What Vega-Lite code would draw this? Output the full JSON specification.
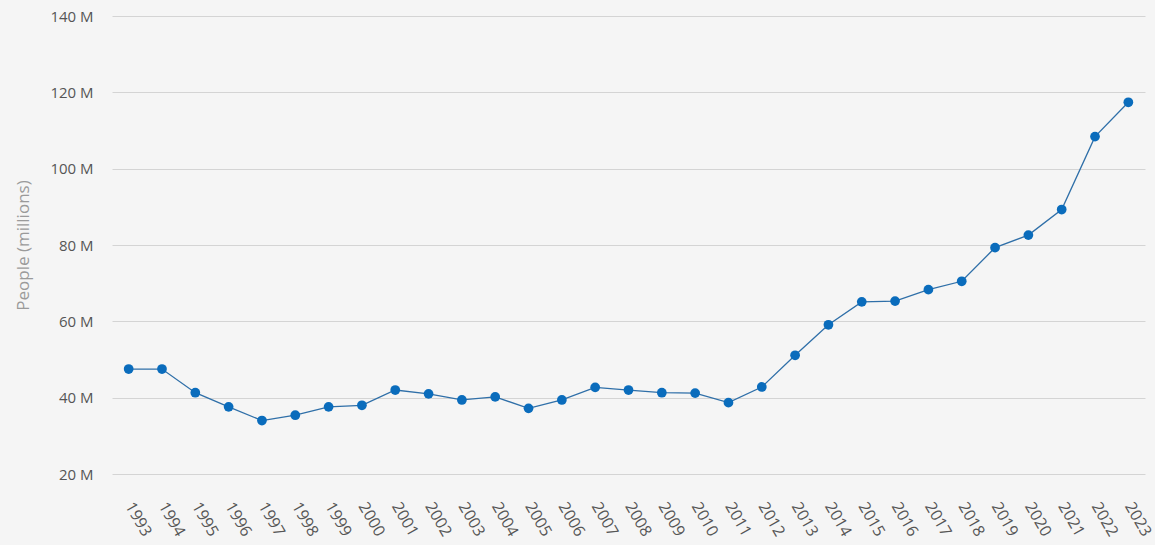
{
  "$schema": "https://vega.github.io/schema/vega-lite/v6.json",
  "width": 1033,
  "height": 458,
  "autosize": {"type": "none"},
  "padding": {"left": 112, "top": 16, "right": 10, "bottom": 71},
  "background": "#f5f5f5",
  "config": {
    "view": {"stroke": null},
    "font": "Open Sans",
    "axis": {"labelFont": "Open Sans", "titleFont": "Open Sans"}
  },
  "data": {
    "values": [
      {"year": "1993", "people": 47.5},
      {"year": "1994", "people": 47.5},
      {"year": "1995", "people": 41.3},
      {"year": "1996", "people": 37.6},
      {"year": "1997", "people": 34.0},
      {"year": "1998", "people": 35.4},
      {"year": "1999", "people": 37.6},
      {"year": "2000", "people": 38.0},
      {"year": "2001", "people": 42.0},
      {"year": "2002", "people": 41.0},
      {"year": "2003", "people": 39.4},
      {"year": "2004", "people": 40.2},
      {"year": "2005", "people": 37.2},
      {"year": "2006", "people": 39.4},
      {"year": "2007", "people": 42.7},
      {"year": "2008", "people": 42.0},
      {"year": "2009", "people": 41.3},
      {"year": "2010", "people": 41.2},
      {"year": "2011", "people": 38.7},
      {"year": "2012", "people": 42.8},
      {"year": "2013", "people": 51.1},
      {"year": "2014", "people": 59.1},
      {"year": "2015", "people": 65.1},
      {"year": "2016", "people": 65.3},
      {"year": "2017", "people": 68.3},
      {"year": "2018", "people": 70.5},
      {"year": "2019", "people": 79.3},
      {"year": "2020", "people": 82.6},
      {"year": "2021", "people": 89.3},
      {"year": "2022", "people": 108.4},
      {"year": "2023", "people": 117.4}
    ]
  },
  "encoding": {
    "x": {
      "field": "year",
      "type": "ordinal",
      "scale": {"type": "point", "padding": 0.5},
      "axis": {
        "title": null,
        "domain": false,
        "ticks": false,
        "grid": false,
        "labelAngle": 60,
        "labelAlign": "left",
        "labelBaseline": "middle",
        "labelPadding": 29,
        "labelFontSize": 16,
        "labelColor": "#555555"
      }
    },
    "y": {
      "field": "people",
      "type": "quantitative",
      "scale": {"domain": [20, 140], "nice": false, "zero": false},
      "axis": {
        "title": "People (millions)",
        "titleColor": "#9a9a9a",
        "titleFontSize": 17,
        "titleFontWeight": "normal",
        "titleX": -80,
        "titleY": 229,
        "values": [20, 40, 60, 80, 100, 120, 140],
        "labelExpr": "datum.value + ' M'",
        "domain": false,
        "ticks": false,
        "labelPadding": 19,
        "labelFontSize": 15,
        "labelColor": "#555555",
        "gridColor": "#d4d4d4",
        "gridWidth": 1
      }
    }
  },
  "layer": [
    {"mark": {"type": "line", "color": "#2f6fa8", "strokeWidth": 1.3}},
    {"mark": {"type": "point", "filled": true, "color": "#0a6cbc", "opacity": 1, "size": 95}}
  ]
}
